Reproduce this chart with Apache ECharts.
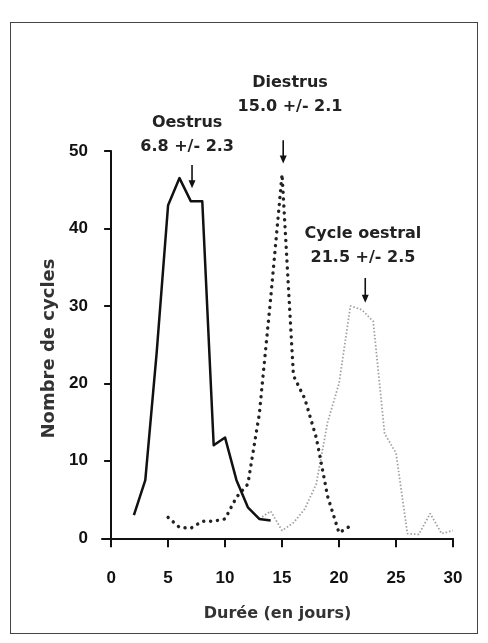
<!DOCTYPE html>
<html><head><meta charset="utf-8">
<script src="https://cdn.jsdelivr.net/npm/echarts@6/dist/echarts.min.js"></script>
<style>
html,body{margin:0;padding:0;background:#fff;}
#c{width:488px;height:643px;}
#frame{position:absolute;left:10px;top:22px;width:466px;height:610px;border:1.5px solid #444;pointer-events:none;}
</style>
</head><body><div id="c"></div><div id="frame"></div>
<script>
// ---- data ----
const oestrusDays   = [2, 3, 4, 5, 6, 7, 8, 9, 10, 11, 12, 13, 14];
const oestrusCounts = [3, 7.5, 24, 43, 46.5, 43.5, 43.5, 12, 13, 7.5, 4, 2.5, 2.3];

const diestrusDays   = [5, 6, 7, 8, 9, 10, 11, 12, 13, 14, 15, 16, 17, 18, 19, 20, 21];
const diestrusCounts = [2.7, 1.4, 1.3, 2.2, 2.2, 2.5, 5.3, 7, 16, 31, 47, 21, 18, 13, 5.4, 0.7, 1.6];

const cycleDays   = [13, 14, 15, 16, 17, 18, 19, 20, 21, 22, 23, 24, 25, 26, 27, 28, 29, 30];
const cycleCounts = [2.5, 3.5, 1, 2, 3.8, 7, 15, 20, 30, 29.5, 28, 13.5, 11, 0.6, 0.5, 3.2, 0.6, 1];

const xTickValues = [0, 5, 10, 15, 20, 25, 30];
const yTickValues = [0, 10, 20, 30, 40, 50];

const annotLabels = ['Oestrus\n6.8 +/- 2.3', 'Diestrus\n15.0 +/- 2.1', 'Cycle oestral\n21.5 +/- 2.5'];
// [arrow x, arrow top, arrow tip, label x, label y] in data units
const annotOestrus  = [7.1, 48.2, 45.2, 6.67, 52.1];
const annotDiestrus = [15.1, 51.4, 48.4, 15.7, 57.2];
const annotCycle    = [22.3, 33.6, 30.4, 22.1, 37.7];

const zip = (xs, ys) => xs.map((x, i) => [x, ys[i]]);

const chart = echarts.init(document.getElementById('c'), null, {renderer: 'canvas'});
const axisLineStyle = {color: '#111', width: 2};
chart.setOption({
  backgroundColor: '#fff',
  animation: false,
  grid: {left: 102, right: 35, top: 151, bottom: 97},
  xAxis: {
    type: 'value', min: -0.8, max: 30,
    name: 'Durée (en jours)', nameLocation: 'middle', nameGap: 60,
    nameTextStyle: {fontFamily: 'DejaVu Sans', fontWeight: 'bold', fontSize: 16, color: '#333'},
    axisLine: {show: true, lineStyle: axisLineStyle},
    axisTick: {show: true, length: 9, lineStyle: {color: '#111', width: 2}, customValues: xTickValues},
    axisLabel: {margin: 24, fontFamily: 'Liberation Sans', fontWeight: 'bold', fontSize: 17, color: '#111', customValues: xTickValues},
    splitLine: {show: false}
  },
  yAxis: {
    type: 'value', min: -1, max: 50,
    name: 'Nombre de cycles', nameLocation: 'middle', nameGap: 39, nameRotate: 90,
    nameTextStyle: {fontFamily: 'DejaVu Sans', fontWeight: 'bold', fontSize: 18, color: '#333'},
    axisLine: {show: true, lineStyle: axisLineStyle},
    axisTick: {show: true, length: 7, lineStyle: {color: '#111', width: 2}, customValues: yTickValues},
    axisLabel: {margin: 14, fontFamily: 'Liberation Sans', fontWeight: 'bold', fontSize: 17, color: '#111', customValues: yTickValues},
    splitLine: {show: false}
  },
  series: [
    {
      name: 'Oestrus', type: 'line', data: zip(oestrusDays, oestrusCounts),
      symbol: 'none', lineStyle: {color: '#111', width: 2.5, join: 'round'}, z: 3
    },
    {
      name: 'Diestrus', type: 'line', data: zip(diestrusDays, diestrusCounts),
      symbol: 'none', lineStyle: {color: '#222', width: 3.4, type: [0.1, 6.8], cap: 'round'}, z: 2
    },
    {
      name: 'Cycle oestral', type: 'line', data: zip(cycleDays, cycleCounts),
      symbol: 'none', lineStyle: {color: '#a0a0a0', width: 1.8, type: [1.5, 2]}, z: 1
    },
    {
      name: 'annotations', type: 'custom', clip: false, z: 5,
      data: [annotOestrus, annotDiestrus, annotCycle],
      encode: {x: [0, 3], y: [1, 2, 4]},
      renderItem: function (params, api) {
        const i = params.dataIndex;
        const top = api.coord([api.value(0), api.value(1)]);
        const tip = api.coord([api.value(0), api.value(2)]);
        const tc = api.coord([api.value(3), api.value(4)]);
        return {
          type: 'group',
          children: [
            {type: 'line', shape: {x1: top[0], y1: top[1], x2: tip[0], y2: tip[1] - 6},
             style: {stroke: '#111', lineWidth: 1.6}},
            {type: 'polygon', shape: {points: [[tip[0] - 3.5, tip[1] - 8], [tip[0] + 3.5, tip[1] - 8], [tip[0], tip[1]]]},
             style: {fill: '#111'}},
            {type: 'text', x: tc[0], y: tc[1],
             style: {text: annotLabels[i], align: 'center', verticalAlign: 'middle',
                     font: 'bold 16px "DejaVu Sans"', fill: '#222', lineHeight: 24}}
          ]
        };
      }
    }
  ]
});
</script>
</body></html>
